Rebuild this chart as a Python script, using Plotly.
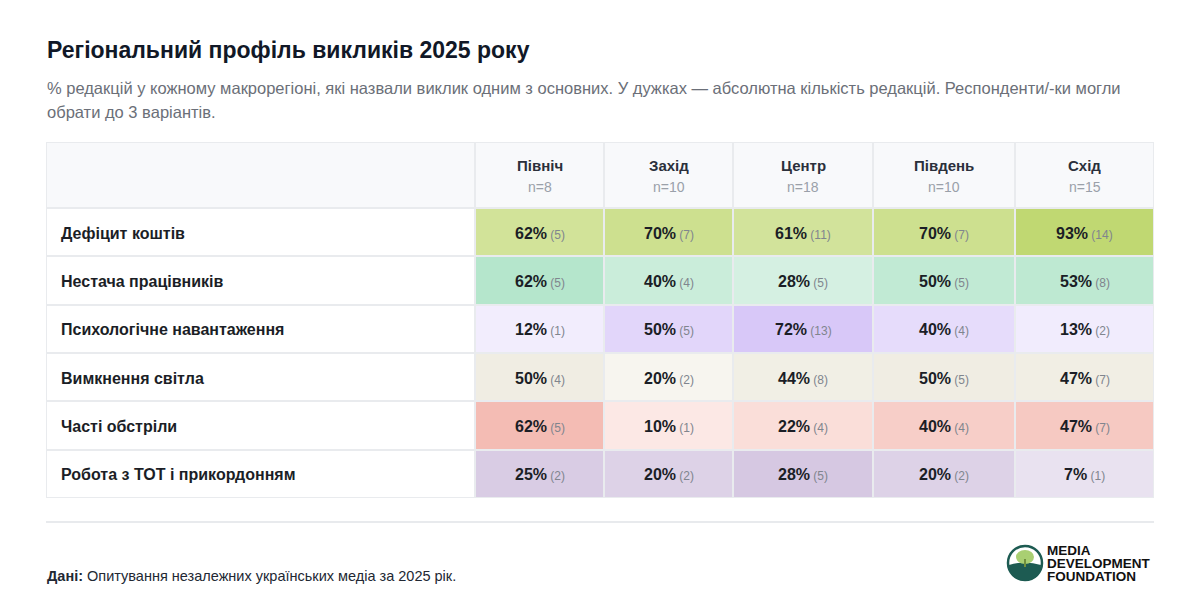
import plotly.graph_objects as go

# ---------------- data ----------------
regions = ["Північ", "Захід", "Центр", "Південь", "Схід"]
region_n = [8, 10, 18, 10, 15]
challenges = [
    "Дефіцит коштів",
    "Нестача працівників",
    "Психологічне навантаження",
    "Вимкнення світла",
    "Часті обстріли",
    "Робота з ТОТ і прикордонням",
]
pct_funding = [62, 70, 61, 70, 93]
cnt_funding = [5, 7, 11, 7, 14]
pct_staff = [62, 40, 28, 50, 53]
cnt_staff = [5, 4, 5, 5, 8]
pct_psych = [12, 50, 72, 40, 13]
cnt_psych = [1, 5, 13, 4, 2]
pct_power = [50, 20, 44, 50, 47]
cnt_power = [4, 2, 8, 5, 7]
pct_shelling = [62, 10, 22, 40, 47]
cnt_shelling = [5, 1, 4, 4, 7]
pct_tot = [25, 20, 28, 20, 7]
cnt_tot = [2, 2, 5, 2, 1]

pct_rows = [pct_funding, pct_staff, pct_psych, pct_power, pct_shelling, pct_tot]
cnt_rows = [cnt_funding, cnt_staff, cnt_psych, cnt_power, cnt_shelling, cnt_tot]

title = "Регіональний профіль викликів 2025 року"
subtitle_lines = [
    "% редакцій у кожному макрорегіоні, які назвали виклик одним з основних. "
    "У дужках — абсолютна кількість редакцій. Респонденти/-ки могли",
    "обрати до 3 варіантів.",
]
source_label = "Дані:"
source_text = "Опитування незалежних українських медіа за 2025 рік."
logo_lines = ["MEDIA", "DEVELOPMENT", "FOUNDATION"]

# ---------------- styles ----------------
col_widths = [129, 129, 140, 142, 139]   # relative column widths (auto table layout)
row_full_colors = [
    (188, 213, 105),
    (146, 218, 180),
    (204, 183, 246),
    (229, 224, 205),
    (239, 156, 144),
    (149, 113, 180),
]
FLOOR = 0.15
GAP_COLOR = "#e9ebee"
HEADER_BG = "#f8f9fb"
FONT = "Liberation Sans, Arial, sans-serif"
W, H = 1184, 600   # page body adds an 8px margin
OFF = 8


def mix(c, a):
    r, g, b = (round(255 - a * (255 - v)) for v in c)
    return f"rgb({r},{g},{b})"


def px_x(p):
    return (p - OFF) / W


def px_y(p):
    return 1 - (p - OFF) / H


col_edges = [0]
for w in col_widths:
    col_edges.append(col_edges[-1] + w)
col_centers = [(a + b) / 2 for a, b in zip(col_edges[:-1], col_edges[1:])]

fig = go.Figure()

# body cells: one heatmap per challenge row (other rows left empty), each with its own hue
for ri, vals in enumerate(pct_rows):
    c = row_full_colors[ri]
    z = [list(vals) if k == ri else [None] * len(regions) for k in range(len(challenges))]
    fig.add_trace(go.Heatmap(
        x=col_edges, y=challenges, z=z,
        zmin=0, zmax=100,
        colorscale=[[0, mix(c, FLOOR)], [1, mix(c, 1.0)]],
        showscale=False, xgap=2, ygap=2, hoverinfo="skip",
        xaxis="x", yaxis="y",
    ))

# label column
fig.add_trace(go.Heatmap(
    x=["label"], y=challenges, z=[[0] for _ in challenges],
    zmin=0, zmax=1, colorscale=[[0, "#ffffff"], [1, "#ffffff"]],
    showscale=False, xgap=2, ygap=2, hoverinfo="skip",
    xaxis="x2", yaxis="y",
))

# header row
fig.add_trace(go.Heatmap(
    x=col_edges, y=["header"], z=[[0] * len(regions)],
    zmin=0, zmax=1, colorscale=[[0, HEADER_BG], [1, HEADER_BG]],
    showscale=False, xgap=2, ygap=2, hoverinfo="skip",
    xaxis="x", yaxis="y2",
))
fig.add_trace(go.Heatmap(
    x=["label"], y=["header"], z=[[0]],
    zmin=0, zmax=1, colorscale=[[0, HEADER_BG], [1, HEADER_BG]],
    showscale=False, xgap=2, ygap=2, hoverinfo="skip",
    xaxis="x2", yaxis="y2",
))

annotations = []

# cell texts
for ri, name in enumerate(challenges):
    for ci in range(len(regions)):
        annotations.append(dict(
            x=col_centers[ci], y=name, xref="x", yref="y", yshift=-1, showarrow=False,
            text=(f"<b>{pct_rows[ri][ci]}%</b>"
                  f"<span style='font-size:12px;color:#80858e'> ({cnt_rows[ri][ci]})</span>"),
            font=dict(family=FONT, size=16, color="#1b1e26"),
            xanchor="center", yanchor="middle",
        ))
    annotations.append(dict(
        x=0, y=name, xref="x2 domain", yref="y", xshift=13, yshift=-1, showarrow=False,
        text=f"<b>{name}</b>", xanchor="left", yanchor="middle",
        font=dict(family=FONT, size=16, color="#1b1e26"),
    ))

# header texts
for ci, reg in enumerate(regions):
    annotations.append(dict(
        x=col_centers[ci], y="header", xref="x", yref="y2", yshift=10, showarrow=False,
        text=f"<b>{reg}</b>", xanchor="center", yanchor="middle",
        font=dict(family=FONT, size=15, color="#2b303b"),
    ))
    annotations.append(dict(
        x=col_centers[ci], y="header", xref="x", yref="y2", yshift=-12, showarrow=False,
        text=f"n={region_n[ci]}", xanchor="center", yanchor="middle",
        font=dict(family=FONT, size=14, color="#9aa0a9"),
    ))

# title, subtitle, footer
annotations.append(dict(
    x=px_x(45), y=px_y(50), xref="paper", yref="paper", showarrow=False,
    text=f"<b>{title}</b>", xanchor="left", yanchor="middle",
    font=dict(family=FONT, size=23, color="#111827")))
for k, line in enumerate(subtitle_lines):
    annotations.append(dict(
        x=px_x(45), y=px_y(88 + 24 * k), xref="paper", yref="paper", showarrow=False,
        text=line, xanchor="left", yanchor="middle",
        font=dict(family=FONT, size=16.5, color="#6b6f78")))
annotations.append(dict(
    x=px_x(45), y=px_y(576), xref="paper", yref="paper", showarrow=False,
    text=f"<b>{source_label}</b> {source_text}", xanchor="left", yanchor="middle",
    font=dict(family=FONT, size=14.5, color="#222833")))
for k, line in enumerate(logo_lines):
    annotations.append(dict(
        x=px_x(1045), y=px_y(550 + 13 * k), xref="paper", yref="paper", showarrow=False,
        text=f"<b>{line}</b>", xanchor="left", yanchor="middle",
        font=dict(family=FONT, size=13.5, color="#111111")))

# decorative shapes: rule + logo
logo_anchor = dict(xref="paper", yref="paper", xsizemode="pixel", ysizemode="pixel",
                   xanchor=px_x(1025), yanchor=px_y(563))
shapes = [
    dict(type="line", xref="paper", yref="paper", x0=px_x(46), x1=px_x(1154),
         y0=px_y(522), y1=px_y(522), line=dict(color="#e8eaed", width=2)),
    dict(type="circle", x0=-17, x1=17, y0=-17, y1=17, fillcolor="#ffffff",
         line=dict(color="#1d5b52", width=2.5), **logo_anchor),
    dict(type="path", path="M -16 -2 C -16 -23 16 -23 16 -2 Q 0 3 -16 -2 Z",
         fillcolor="#1d5b52", line=dict(width=0), **logo_anchor),
    dict(type="circle", x0=-9, x1=9, y0=-1, y1=13, fillcolor="#a9cf72",
         line=dict(width=0), **logo_anchor),
    dict(type="line", x0=0, x1=0, y0=-4, y1=4, line=dict(color="#6f8f3c", width=2),
         **logo_anchor),
]

axis_common = dict(showgrid=False, zeroline=False, showticklabels=False, ticks="",
                   showline=False, fixedrange=True)

fig.update_layout(
    width=W, height=H,
    margin=dict(l=0, r=0, t=0, b=0, pad=0),
    paper_bgcolor="#ffffff", plot_bgcolor=GAP_COLOR,
    showlegend=False,
    xaxis=dict(domain=[px_x(475), px_x(1154)], range=[col_edges[0], col_edges[-1]],
               type="linear", anchor="y", **axis_common),
    xaxis2=dict(domain=[px_x(46), px_x(475)], range=[-0.5, 0.5], type="category",
                anchor="y", **axis_common),
    yaxis=dict(domain=[px_y(498), px_y(208)], range=[len(challenges) - 0.5, -0.5],
               type="category", anchor="x", **axis_common),
    yaxis2=dict(domain=[px_y(208), px_y(142)], range=[-0.5, 0.5], type="category",
                anchor="x", **axis_common),
    annotations=annotations,
    shapes=shapes,
)

fig.write_html("out.html")
